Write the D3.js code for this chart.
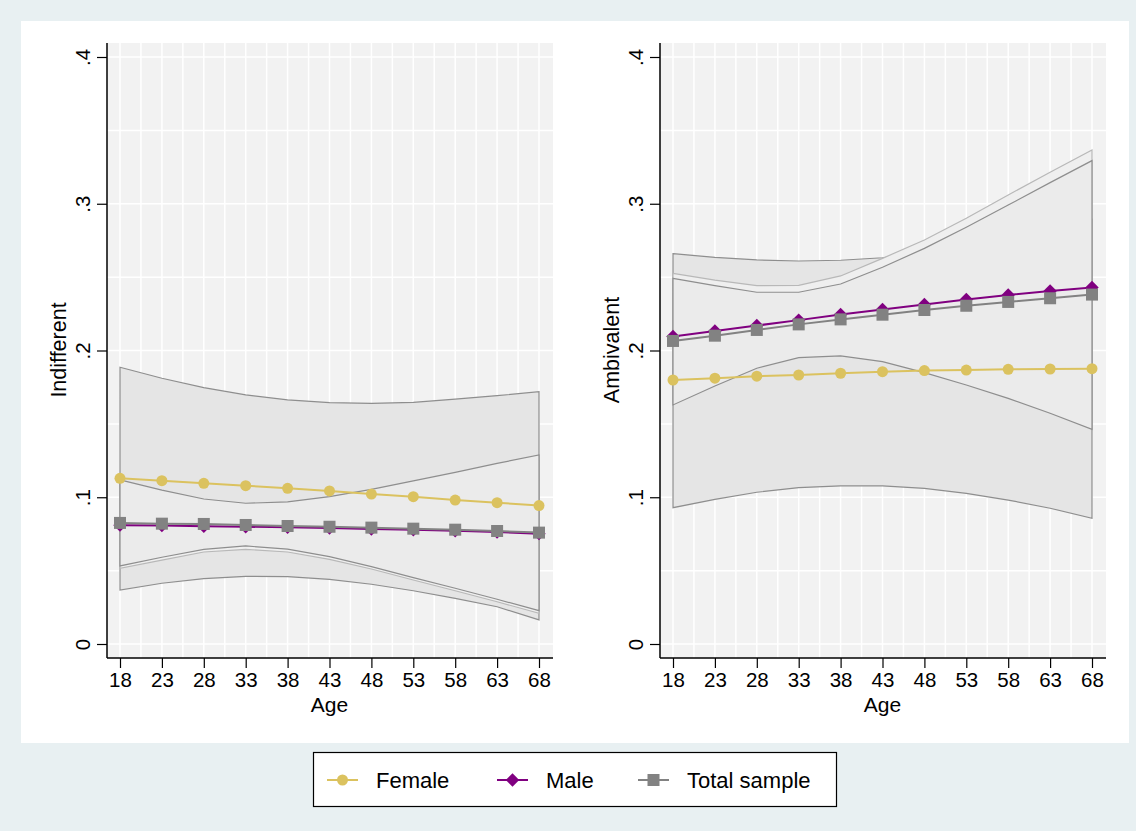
<!DOCTYPE html>
<html>
<head>
<meta charset="utf-8">
<script src="https://cdn.jsdelivr.net/npm/d3@7"></script>
<style>
  body { margin: 0; background: #e8f0f2; }
  svg { display: block; font-family: "Liberation Sans", Arial, sans-serif; }
</style>
</head>
<body>
<div id="chartArea"></div>
<script>
const svgWidth = 1136;
const svgHeight = 831;

// data
const ages = [18, 23, 28, 33, 38, 43, 48, 53, 58, 63, 68];
const yTicks = [0, 0.1, 0.2, 0.3, 0.4];
const yTickLabels = ['0', '.1', '.2', '.3', '.4'];
const seriesNames = ['Female', 'Male', 'Total sample'];

// Indifferent
const indFemale = [0.1129, 0.1113, 0.1095, 0.1079, 0.1061, 0.1043, 0.1022, 0.1004, 0.0981, 0.0963, 0.0943];
const indMale = [0.0810, 0.0807, 0.0803, 0.0799, 0.0795, 0.0790, 0.0784, 0.0778, 0.0771, 0.0763, 0.0752];
const indTotal = [0.0825, 0.0820, 0.0818, 0.0811, 0.0804, 0.0799, 0.0793, 0.0786, 0.0779, 0.0770, 0.0759];
const indFemaleHi = [0.1886, 0.1811, 0.1747, 0.1697, 0.1663, 0.1645, 0.1640, 0.1647, 0.1668, 0.1692, 0.1719];
const indFemaleLo = [0.0368, 0.0414, 0.0445, 0.0461, 0.0459, 0.0441, 0.0407, 0.0363, 0.0311, 0.0254, 0.0164];
const indMaleHi = [0.1090, 0.1035, 0.0975, 0.0948, 0.0957, 0.0994, 0.1044, 0.1100, 0.1158, 0.1218, 0.1278];
const indMaleLo = [0.0516, 0.0572, 0.0627, 0.0645, 0.0627, 0.0577, 0.0511, 0.0436, 0.0363, 0.0288, 0.0209];
const indTotalHi = [0.1118, 0.1049, 0.0988, 0.0959, 0.0968, 0.1004, 0.1054, 0.1111, 0.1170, 0.1231, 0.1288];
const indTotalLo = [0.0532, 0.0591, 0.0645, 0.0668, 0.0647, 0.0595, 0.0527, 0.0452, 0.0380, 0.0305, 0.0227];

// Ambivalent
const ambFemale = [0.1799, 0.1811, 0.1825, 0.1833, 0.1845, 0.1856, 0.1863, 0.1867, 0.1872, 0.1874, 0.1876];
const ambMale = [0.2095, 0.2133, 0.2170, 0.2207, 0.2245, 0.2280, 0.2314, 0.2347, 0.2378, 0.2405, 0.2430];
const ambTotal = [0.2065, 0.2101, 0.2140, 0.2178, 0.2212, 0.2244, 0.2276, 0.2305, 0.2331, 0.2356, 0.2381];
const ambFemaleHi = [0.2660, 0.2635, 0.2617, 0.2610, 0.2615, 0.2632, 0.2665, 0.2707, 0.2763, 0.2823, 0.2895];
const ambFemaleLo = [0.0929, 0.0986, 0.1034, 0.1065, 0.1077, 0.1077, 0.1061, 0.1027, 0.0981, 0.0925, 0.0857];
const ambMaleHi = [0.2526, 0.2480, 0.2442, 0.2444, 0.2508, 0.2628, 0.2753, 0.2901, 0.3060, 0.3214, 0.3366];
const ambMaleLo = [0.1664, 0.1786, 0.1898, 0.1970, 0.1982, 0.1932, 0.1875, 0.1793, 0.1696, 0.1596, 0.1494];
const ambTotalHi = [0.2492, 0.2442, 0.2397, 0.2397, 0.2453, 0.2567, 0.2696, 0.2840, 0.2991, 0.3144, 0.3294];
const ambTotalLo = [0.1629, 0.1758, 0.1879, 0.1951, 0.1963, 0.1924, 0.1849, 0.1765, 0.1674, 0.1572, 0.1463];

const femaleColor = '#dbc25f';
const maleColor = '#800080';
const totalColor = '#828282';

const panels = [
  { title: 'Indifferent', left: 107, titleX: 58,
    lines: [indFemale, indMale, indTotal],
    bands: [[indFemaleLo, indFemaleHi], [indMaleLo, indMaleHi], [indTotalLo, indTotalHi]] },
  { title: 'Ambivalent', left: 660, titleX: 611,
    lines: [ambFemale, ambMale, ambTotal],
    bands: [[ambFemaleLo, ambFemaleHi], [ambMaleLo, ambMaleHi], [ambTotalLo, ambTotalHi]] }
];

const bandFills = ['#e5e5e5', '#efefef', '#ebebeb'];
const bandStrokes = ['#8e8e8e', '#b8b8b8', '#8e8e8e'];
const lineColors = [femaleColor, maleColor, totalColor];
const fontFamily = '"Liberation Sans", Arial, sans-serif';

const canvas = d3.select('#chartArea')
  .append('svg')
  .attr('width', svgWidth)
  .attr('height', svgHeight);

canvas.append('rect')
  .attr('width', svgWidth)
  .attr('height', svgHeight)
  .attr('fill', '#e8f0f2');

canvas.append('rect')
  .attr('x', 21)
  .attr('y', 21)
  .attr('width', 1108)
  .attr('height', 722)
  .attr('fill', '#ffffff');

const plotTop = 43;
const plotBottom = 658;
const plotW = 446;

const y = d3.scaleLinear().domain([0, 0.4]).range([644, 57]);

function drawMarker(g, kind, cx, cy, color) {
  if (kind === 0) {
    g.append('circle').attr('cx', cx).attr('cy', cy).attr('r', 5.5).attr('fill', color);
  } else if (kind === 1) {
    g.append('path')
      .attr('d', d3.symbol().type(d3.symbolDiamond2).size(115)())
      .attr('transform', `translate(${cx},${cy})`)
      .attr('fill', color);
  } else {
    g.append('rect').attr('x', cx - 6).attr('y', cy - 6).attr('width', 12).attr('height', 12).attr('fill', color);
  }
}

panels.forEach(p => {
  const g = canvas.append('g');
  const x = d3.scaleLinear().domain([18, 68]).range([p.left + 13, p.left + 432]);

  g.append('rect')
    .attr('x', p.left)
    .attr('y', plotTop)
    .attr('width', plotW)
    .attr('height', plotBottom - plotTop)
    .attr('fill', '#f2f2f2');

  // grid
  d3.range(18, 68.1, 2.5).forEach(a => {
    g.append('line')
      .attr('x1', x(a)).attr('x2', x(a))
      .attr('y1', plotTop).attr('y2', plotBottom)
      .attr('stroke', '#ffffff').attr('stroke-width', 1.5);
  });
  d3.range(0, 0.401, 0.05).forEach(v => {
    g.append('line')
      .attr('x1', p.left).attr('x2', p.left + plotW)
      .attr('y1', y(v)).attr('y2', y(v))
      .attr('stroke', '#ffffff').attr('stroke-width', 1.5);
  });

  // confidence bands
  const area = d3.area()
    .x((d, i) => x(ages[i]))
    .y0(d => y(d[0]))
    .y1(d => y(d[1]));
  p.bands.forEach((b, k) => {
    const pts = ages.map((a, i) => [b[0][i], b[1][i]]);
    g.append('path')
      .attr('d', area(pts) + 'Z')
      .attr('fill', bandFills[k])
      .attr('stroke', bandStrokes[k])
      .attr('stroke-width', 1.2);
  });

  // series lines and markers
  const line = d3.line().x((d, i) => x(ages[i])).y(d => y(d));
  p.lines.forEach((vals, k) => {
    g.append('path')
      .attr('d', line(vals))
      .attr('fill', 'none')
      .attr('stroke', lineColors[k])
      .attr('stroke-width', 2);
    vals.forEach((v, i) => drawMarker(g, k, x(ages[i]), y(v), lineColors[k]));
  });

  // axes
  const yAxis = g.append('g')
    .attr('transform', `translate(${p.left},0)`)
    .call(d3.axisLeft(y).tickValues(yTicks).tickSize(10).tickFormat((d, i) => yTickLabels[i]));
  yAxis.select('.domain').attr('d', `M0,${plotTop}V${plotBottom}`).attr('stroke', '#000').attr('stroke-width', 1.5);
  yAxis.selectAll('.tick line').attr('stroke', '#000').attr('stroke-width', 1.2);
  yAxis.selectAll('.tick text')
    .attr('x', 0).attr('dy', 0)
    .attr('transform', 'translate(-17,0) rotate(-90)')
    .attr('text-anchor', 'middle')
    .attr('font-size', 20.5)
    .attr('fill', '#000')
    .attr('font-family', fontFamily);

  const xAxis = g.append('g')
    .attr('transform', `translate(0,${plotBottom})`)
    .call(d3.axisBottom(x).tickValues(ages).tickSize(10).tickFormat(d3.format('d')));
  xAxis.select('.domain').attr('d', `M${p.left},0H${p.left + plotW}`).attr('stroke', '#000').attr('stroke-width', 1.5);
  xAxis.selectAll('.tick line').attr('stroke', '#000').attr('stroke-width', 1.2);
  xAxis.selectAll('.tick text')
    .attr('y', 29)
    .attr('dy', 0)
    .attr('font-size', 20.5)
    .attr('fill', '#000')
    .attr('font-family', fontFamily);

  g.append('text')
    .attr('x', x(43))
    .attr('y', 712)
    .attr('text-anchor', 'middle')
    .attr('font-size', 21)
    .text('Age');

  g.append('text')
    .attr('transform', `translate(${p.titleX + 8},350) rotate(-90)`)
    .attr('text-anchor', 'middle')
    .attr('font-size', 21.5)
    .text(p.title);
});

// legend
const legend = canvas.append('g');
legend.append('rect')
  .attr('x', 313.5).attr('y', 752.5)
  .attr('width', 523).attr('height', 54)
  .attr('fill', '#ffffff')
  .attr('stroke', '#000')
  .attr('stroke-width', 1.2);

const legendX = [327, 497, 638];
seriesNames.forEach((name, k) => {
  const lx = legendX[k];
  legend.append('line')
    .attr('x1', lx).attr('x2', lx + 31)
    .attr('y1', 780).attr('y2', 780)
    .attr('stroke', lineColors[k]).attr('stroke-width', 2);
  drawMarker(legend, k, lx + 15.5, 780, lineColors[k]);
  legend.append('text')
    .attr('x', lx + 49)
    .attr('y', 788)
    .attr('font-size', 22)
    .text(name);
});
</script>
</body>
</html>
